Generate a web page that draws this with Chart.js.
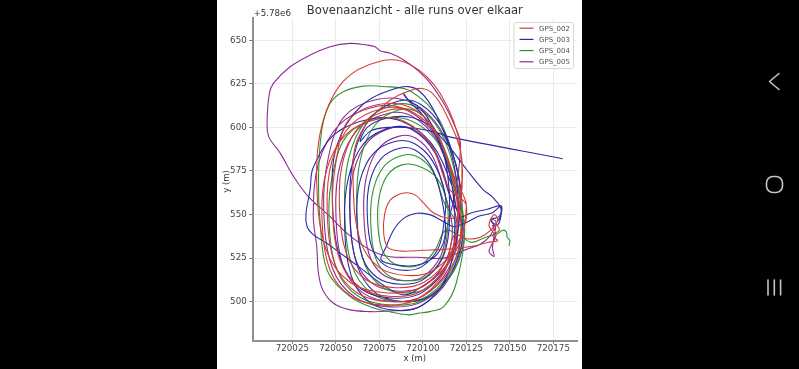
<!DOCTYPE html>
<html lang="nl">
<head>
<meta charset="UTF-8">
<title>Bovenaanzicht - alle runs over elkaar</title>
<script src="https://cdn.jsdelivr.net/npm/chart.js@4"></script>
<style>
  html, body { margin: 0; padding: 0; background: #000; width: 799px; height: 369px; overflow: hidden; }
  #panel { position: absolute; left: 217px; top: 0; width: 365px; height: 369px; background: #fff; }
  #nav { position: absolute; left: 0; top: 0; }
</style>
</head>
<body>
<div id="panel"><canvas id="chart" width="365" height="369"></canvas></div>
<svg id="nav" width="799" height="369">
  <g fill="none" stroke="#c4c4c4" stroke-width="1.6" stroke-linecap="round" stroke-linejoin="round">
    <polyline points="779,73.5 769.5,81.5 779,89.5"/>
    <rect x="766.5" y="176.5" width="16" height="16" rx="6.5"/>
    <line x1="768" y1="280" x2="768" y2="295"/>
    <line x1="774.3" y1="280" x2="774.3" y2="295"/>
    <line x1="780.6" y1="280" x2="780.6" y2="295"/>
  </g>
</svg>
<script>
// offsets: x relative to 720000 m, y relative to 5.78e6 m
const X0 = 720000;
const Y0 = 5780000;

const titleText = 'Bovenaanzicht - alle runs over elkaar';
const xLabel = 'x (m)';
const yLabel = 'y (m)';
const offsetText = '+5.78e6';

const xTickValues = [720025, 720050, 720075, 720100, 720125, 720150, 720175];
const yTickValues = [500, 525, 550, 575, 600, 625, 650];

const seriesNames = ['GPS_002', 'GPS_003', 'GPS_004', 'GPS_005'];
const seriesColors = ['#d63c34', '#2b2ba6', '#2f952f', '#8c2c94'];

// GPS tracks, [x, y] per fix
const gps002 = [
  [142,545],[144,541],[140,538],[143,535],[137,534],[130,532],[122,531],[112,530],[100,529.5],[88,529],[80,531],
  [77.5,539],[78,550],[81,558],[86,561.5],[91,562.5],[96,561],[100.5,556.5],[106,551],[114,548],[120,549],
  [121.6,588],[110,619.4],[92.8,636],[75.5,638],[54.5,626.7],[42,601.4],[39,568.2],[44.2,530.3],[58.3,511],[79.8,505],[100.5,509],[118.6,528.3],[125,554.9],
  [118.9,569.4],[108.5,595.5],[93.1,609.3],[77.7,611],[58.9,601.6],[47.7,580.5],[45,552.7],[49.6,521.1],[62.3,505],[81.6,500],[100.1,503.3],[116.2,519.4],[122,541.6],
  [117.3,571.8],[108.1,595.7],[94.5,608.5],[80.9,610],[64.2,601.3],[54.4,582],[52,556.5],[56.1,527.4],[67.3,512.6],[84.3,508],[100.6,511.1],[114.9,525.8],[120,546.3],
  [117.1,571.8],[107.4,597.6],[93,611.4],[73.6,613],[57,603.7],[50.5,582.8],[48,555.3],[52.3,523.9],[64.2,508],[82.2,503],[99.5,506.3],[114.6,522.3],[120,544.3],
  [122.4,581.9],[113.6,607],[104.6,620.4],[95.6,622],[77.7,612.9],[62.3,592.6],[60,565.8],[63.9,535.3],[74.6,519.8],[90.9,515],[106.5,518.2],[120.1,533.7],[125,555.1],
  [115,564.9],[104.7,590],[89.5,603.4],[74.3,605],[55.7,595.9],[44.7,575.6],[42,548.8],[46.6,518.3],[59.1,502.8],[78.1,498],[96.3,501.2],[112.3,516.7],[118,538.1],
  [126,536],[133,537],[139,541],[143,547],[141,550],[138,544],[141,539]
];

const gps003 = [
  [143,546],[145,550],[145,555],[137,553],[128,551],[121,549],
  [116.6,566.8],[105,590.7],[87.8,603.5],[70.5,605],[49.5,596.3],[37,577],[35.4,566],[33.5,543],[47,532],[62,521],[78,509],[88,504],[95.5,506.1],[113.6,520.8],[120,541.3],
  [118.1,577.6],[108.2,606.1],[97.6,621.2],[87,623],[65,612.7],[50.6,589.7],[48,559.5],[52.4,525],[64.4,507.4],[82.7,502],[100.2,505.6],[115.5,523.2],[121,547.4],
  [120.4,571.9],[111.6,598.9],[98.6,613.3],[85.6,615],[69.7,605.2],[60.3,583.4],[58,554.6],[61.9,521.8],[72.6,505.2],[88.9,500],[104.5,503.5],[118.1,520.1],[123,543.1],
  [115.5,560.6],[107,585.3],[94.4,598.4],[81.8,600],[66.3,591.1],[57.2,571.1],[55,544.9],[58.8,514.9],[69.2,499.7],[84.9,495],[100,498.1],[113.3,513.4],[118,534.4],
  [117,565],[110,590],[100,607],[93,614],[88.8,619.5],[90.7,616.6],[94.5,613.8],[97.4,611.9],[96.5,610.9],[98.4,611.3],[106,600],[112,585],[115,565],
  [115,540.8],[111,524.3],[99.9,512.5],[87.2,510],[73.9,513.7],[65.2,525.6],[62,549],[63.9,569.5],[71.5,585],[84.5,592],[95.1,590.8],[105.7,580.5],[112.9,561.3],
  [112,544.3],[108.7,530.3],[99.5,520.1],[88.9,518],[77.9,521.1],[70.6,531.3],[68,551.3],[69.5,568.8],[75.9,582],[86.7,588],[95.5,587],[104.3,578.2],[110.2,561.8],
  [113,540],[108,527],[97,521],[85,521],[76,524],
  [78.5,530.6],[83.2,541.1],[89,547.8],[96.7,550.7],[104.3,549.8],[112,545.9],[117.7,543],
  [124,545],[132,549],[140,551],[145,555],[144,549],[139,547],[143,544],[145,553],
  [140,560],[134.6,564.3],[125,576],[116,588],[111.6,593],
  [104,601],[92,606],[78,605],[68,600],[64,592],
  [70,598],[80,600],[95,599.5],[108,597],[114.7,594.7],[180.4,582]
];

const gps004 = [
  [120.6,573.9],[109.3,604.7],[92.5,621],[77,623.5],[65.8,623.7],[54.3,620.5],[46.7,613.8],[41.9,598.5],[40,570],[41,545],[45,518],[58,503],[70,497],[82,494],[91.9,492.4],[97,493.3],[104,494.3],[112,497.2],[119,510],[124,540],
  [119.9,564.9],[109.5,590],[94.1,603.4],[74.7,605],[56.9,595.9],[48.7,575.6],[46,548.8],[50.6,518.3],[63.3,502.8],[82.6,498],[101.1,501.2],[117.2,516.7],[123,538.1],
  [119.3,570.6],[110.3,597.2],[96.9,611.3],[83.5,613],[67.1,603.4],[57.3,581.9],[55,553.7],[59,521.5],[70.1,505.1],[86.8,500],[102.9,503.4],[117,519.8],[122,542.4],
  [116.7,570.6],[109,595.3],[97.6,608.4],[86.2,610],[72.3,601.1],[64,581.1],[62,554.9],[65.4,524.9],[74.8,509.7],[89.1,505],[102.8,508.1],[114.7,523.4],[119,544.4],
  [112.2,557],[106.3,573.9],[97.5,582.9],[88.7,584],[77.9,577.9],[71.5,564.2],[70,546.2],[72.6,525.7],[79.9,515.2],[90.9,512],[101.5,514.2],[110.7,524.6],[114,539],
  [114,556],[108,571],[97,578],[88,578.5],[80,573],[75.3,562],[74,547.5],[76.2,531],[82.1,522.6],[91.1,520],[99.7,521.7],[107.3,530.1],[113,541],
  [121,538],[128,534],[136,537],[143,539],[146,541],[148,540],[148.5,537],[150,535],[149.5,532]
];

const gps005 = [
  [118.6,567.6],[107.1,595.4],[90.1,610.2],[73.1,612],[52.3,601.9],[40,579.4],[37,549.8],[39,531.6],[40,516.3],[42.5,506.7],[48.6,499.1],[58.2,495.3],[69.7,494.3],[78,494.5],[97.8,497],[115.6,514.2],[122,537.9],
  [120.8,571.4],[109.8,599.3],[93.6,614.2],[73.4,616],[54.6,605.9],[45.8,583.3],[43,553.5],[47.9,519.6],[61.2,502.4],[81.5,497],[100.9,500.6],[117.9,517.8],[124,541.6],
  [117.2,567.5],[107.75,592.9],[93.75,606.4],[79.75,608],[62.6,598.8],[52.4,578.3],[50,551.3],[54.2,520.5],[65.75,504.9],[83.25,500],[100,503.2],[114.75,518.9],[120,540.5],
  [114.6,564.75],[106.7,586.8],[94.9,598.6],[83.1,600],[68.6,592],[60.1,574.2],[58,550.7],[61.5,523.9],[71.3,510.2],[86,506],[100.2,508.8],[112.6,522.4],[117,541.25],
  [112.1,563.9],[105.6,583.4],[96,593.8],[86.4,595],[74.6,587.9],[67.7,572.2],[66,551.4],[68.9,527.8],[76.8,515.7],[88.8,512],[100.3,514.5],[110.4,526.5],[114,543.1],
  [119,565],[121.6,590.9],[117.7,602.3],[112,613.8],[104.3,625.3],[96.7,633],[89,638.7],[81.3,642.5],[75.4,644],[72.5,646.3],[67.8,647.3],[58.2,648.2],[46.7,646.3],[35.2,641.5],[23.7,634.8],[14.1,625.3],[11.8,619.5],[10.5,604],[11.4,594.7],
  [18.1,585.1],[25.8,571.7],[34.2,560.3],[46.7,548.8],[56.3,539.3],[69.7,529.7],[81.2,525.8],[97,525.5],[112,525],[125,530],
  [133,533],[138,537],[141,543],[139,547],[142,546],[140,531],[141,526],[138,529],[142,538],[140,544]
];

const tracks = [gps002, gps003, gps004, gps005];

Chart.defaults.font.family = '"DejaVu Sans", sans-serif';

// titles, offset text and the legend box
const annotate = {
  id: 'annotate',
  afterDraw(chart) {
    const ctx = chart.ctx;
    const a = chart.chartArea;
    const cx = (a.left + a.right) / 2;
    ctx.save();
    ctx.fillStyle = '#333';
    ctx.textBaseline = 'middle';
    ctx.textAlign = 'center';
    ctx.font = '11.6px "DejaVu Sans"';
    ctx.fillText(titleText, cx, 10.5);
    ctx.font = '8.5px "DejaVu Sans"';
    ctx.fillText(xLabel, cx, 359);
    ctx.save();
    ctx.translate(10, (a.top + a.bottom) / 2 + 2);
    ctx.rotate(-Math.PI / 2);
    ctx.fillText(yLabel, 0, 0);
    ctx.restore();
    ctx.textAlign = 'left';
    ctx.font = '8.7px "DejaVu Sans"';
    ctx.fillText(offsetText, 36.5, 13.3);

    // legend
    const bx = 297, by = 22.5, bw = 59.5, bh = 46;
    ctx.beginPath();
    ctx.roundRect(bx, by, bw, bh, 2);
    ctx.fillStyle = 'rgba(255,255,255,0.85)';
    ctx.fill();
    ctx.strokeStyle = '#d6d6d6';
    ctx.lineWidth = 1;
    ctx.stroke();
    ctx.font = '7px "DejaVu Sans"';
    seriesNames.forEach((name, i) => {
      const y = 28.2 + i * 11.2;
      ctx.strokeStyle = seriesColors[i];
      ctx.lineWidth = 1.2;
      ctx.beginPath();
      ctx.moveTo(302.5, y);
      ctx.lineTo(316.5, y);
      ctx.stroke();
      ctx.fillStyle = '#555';
      ctx.fillText(name, 322, y + 0.5);
    });
    ctx.restore();
  }
};

new Chart(document.getElementById('chart'), {
  type: 'scatter',
  data: {
    datasets: tracks.map((t, i) => ({
      label: seriesNames[i],
      data: t.map(p => ({ x: p[0], y: p[1] })),
      showLine: true,
      borderColor: seriesColors[i],
      borderWidth: 1.1,
      pointRadius: 0,
      tension: 0.35,
      fill: false
    }))
  },
  options: {
    responsive: false,
    animation: false,
    layout: { padding: { top: 18.3, right: 5, left: 0, bottom: 0 } },
    plugins: { legend: { display: false }, tooltip: { enabled: false } },
    scales: {
      x: {
        type: 'linear',
        min: 2.2,
        max: 188.6,
        afterBuildTicks: s => { s.ticks = xTickValues.map(v => ({ value: v - X0 })); },
        afterFit: s => { s.height = 28.3; },
        grid: { color: '#ebebeb', lineWidth: 1, tickLength: 3, tickColor: '#777' },
        border: { display: true, color: '#8f8f8f', width: 2 },
        ticks: { color: '#444', padding: 0, maxRotation: 0, autoSkip: false, font: { size: 8.7 },
                 callback: v => String(X0 + v) }
      },
      y: {
        type: 'linear',
        min: 477.6,
        max: 662.6,
        afterBuildTicks: s => { s.ticks = yTickValues.map(v => ({ value: v })); },
        afterFit: s => { s.width = 35.7; },
        grid: { color: '#ebebeb', lineWidth: 1, tickLength: 3.5, tickColor: '#777' },
        border: { display: true, color: '#8f8f8f', width: 2 },
        ticks: { color: '#444', padding: 2.5, autoSkip: false, font: { size: 8.7 },
                 callback: v => String(v) }
      }
    }
  },
  plugins: [annotate]
});
</script>
</body>
</html>
